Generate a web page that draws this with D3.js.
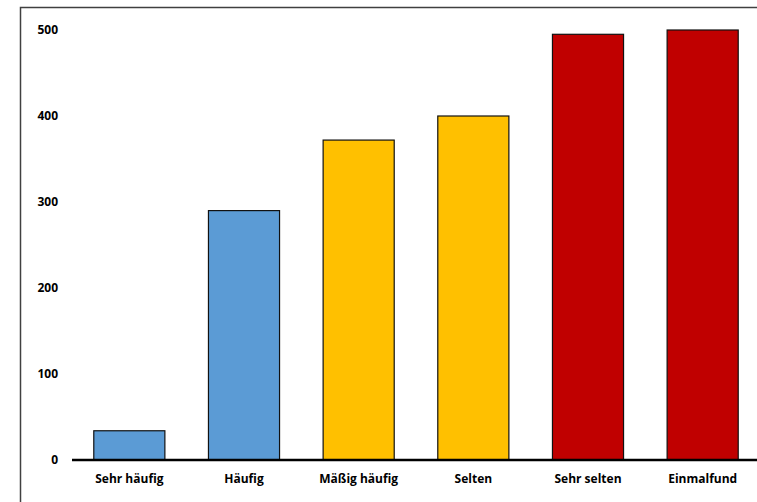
<!DOCTYPE html>
<html><head><meta charset="utf-8">
<script src="https://cdn.jsdelivr.net/npm/d3@7"></script>
<style>body{margin:0;background:#fff}svg{display:block}text{font-family:"Open Sans",sans-serif;font-weight:bold;fill:#000}</style>
</head><body>
<script>
const categories = ["Sehr häufig","Häufig","Mäßig häufig","Selten","Sehr selten","Einmalfund"];
const values = [34, 290, 372, 400, 495, 500];
const colors = ["#5B9BD5","#5B9BD5","#FFC000","#FFC000","#C00000","#C00000"];
const yTicks = [0,100,200,300,400,500];

const W=757,H=502;
const svg=d3.select("body").append("svg").attr("width",W).attr("height",H);
// outer frame
svg.append("rect").attr("x",20.5).attr("y",7.5).attr("width",W).attr("height",H).attr("fill","none").attr("stroke","#404040").attr("stroke-width",1.5);

const x=d3.scaleBand().domain(categories).range([72,760]).paddingInner(0.38).paddingOuter(0.19);
const y=d3.scaleLinear().domain([0,500]).range([460,30]);

svg.selectAll("rect.bar").data(categories).join("rect").attr("class","bar")
 .attr("x",d=>x(d)).attr("width",x.bandwidth())
 .attr("y",(d,i)=>y(values[i])).attr("height",(d,i)=>y(0)-y(values[i]))
 .attr("fill",(d,i)=>colors[i]).attr("stroke","#111").attr("stroke-width",1.2);

const xAxis=svg.append("g").attr("transform","translate(0,460)").call(d3.axisBottom(x).tickSize(0).tickPadding(14));
xAxis.select(".domain").attr("stroke","#000").attr("stroke-width",2.5).attr("d","M72,0H757");
xAxis.selectAll("text").attr("font-size",12).attr("font-family","'Open Sans',sans-serif").attr("font-weight","bold");

const yAxis=svg.append("g").attr("transform","translate(58,0)").call(d3.axisLeft(y).tickValues(yTicks).tickSize(0).tickPadding(0));
yAxis.select(".domain").remove();
yAxis.selectAll("text").attr("font-size",12).attr("font-family","'Open Sans',sans-serif").attr("font-weight","bold");
</script>
</body></html>
